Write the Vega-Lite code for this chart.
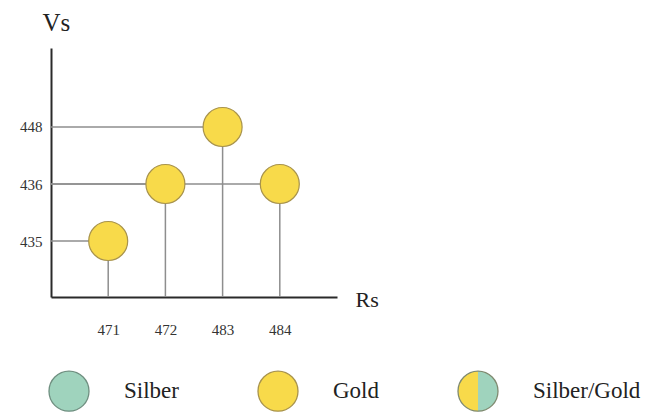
{
  "$schema": "https://vega.github.io/schema/vega-lite/v6.json",
  "autosize": {"type": "none"},
  "padding": {"left": 51, "top": 48, "right": 325, "bottom": 115},
  "width": 286,
  "height": 249,
  "background": "#ffffff",
  "config": {
    "view": {"stroke": null},
    "font": "Liberation Serif"
  },
  "data": {
    "values": [
      {"Rs": "471", "Vs": "435", "Metall": "Gold"},
      {"Rs": "472", "Vs": "436", "Metall": "Gold"},
      {"Rs": "483", "Vs": "448", "Metall": "Gold"},
      {"Rs": "484", "Vs": "436", "Metall": "Gold"}
    ]
  },
  "encoding": {
    "x": {
      "field": "Rs",
      "type": "ordinal",
      "sort": ["471", "472", "483", "484"],
      "scale": {"type": "point", "padding": 1},
      "axis": {
        "title": "Rs",
        "titleFont": "Liberation Serif",
        "titleFontSize": 22,
        "titleFontWeight": "normal",
        "titleColor": "#222222",
        "titleAngle": 0,
        "titleAlign": "left",
        "titleBaseline": "alphabetic",
        "titleX": 304,
        "titleY": 9,
        "labelAngle": 0,
        "labelFont": "Liberation Serif",
        "labelFontSize": 15,
        "labelColor": "#333333",
        "labelPadding": 25,
        "labelDx": 6,
        "ticks": false,
        "tickSize": 0,
        "grid": false,
        "domainColor": "#2a2a2a",
        "domainWidth": 2
      }
    },
    "y": {
      "field": "Vs",
      "type": "ordinal",
      "scale": {"type": "point", "domain": ["", "448", "436", "435"], "padding": 0.684, "align": 0.282},
      "axis": {
        "values": ["448", "436", "435"],
        "title": "Vs",
        "titleFont": "Liberation Serif",
        "titleFontSize": 25,
        "titleFontWeight": "normal",
        "titleColor": "#222222",
        "titleAngle": 0,
        "titleAlign": "left",
        "titleBaseline": "alphabetic",
        "titleX": -9,
        "titleY": -18,
        "labelFont": "Liberation Serif",
        "labelFontSize": 15,
        "labelColor": "#333333",
        "labelPadding": 9,
        "ticks": false,
        "tickSize": 0,
        "grid": false,
        "domainColor": "#2a2a2a",
        "domainWidth": 2
      }
    }
  },
  "layer": [
    {
      "mark": {"type": "rule", "color": "#8e8e8e", "strokeWidth": 1.5},
      "encoding": {
        "x2": {"value": 0}
      }
    },
    {
      "mark": {"type": "rule", "color": "#8e8e8e", "strokeWidth": 1.5},
      "encoding": {
        "y2": {"value": "height"}
      }
    },
    {
      "mark": {"type": "point", "filled": true, "opacity": 1, "size": 1521, "stroke": "#a8934c", "strokeWidth": 1.2},
      "encoding": {
        "color": {
          "field": "Metall",
          "type": "nominal",
          "scale": {"domain": ["Gold", "Silber", "Silber/Gold"], "range": ["#f8da4a", "#9fd3bd", "#c8d8a0"]},
          "legend": null
        },
        "shape": {
          "field": "Metall",
          "type": "nominal",
          "scale": {"domain": ["Silber", "Gold", "Silber/Gold"], "range": ["circle", "circle", "circle"]},
          "legend": {
            "orient": "none",
            "legendX": -3,
            "legendY": 322,
            "direction": "horizontal",
            "title": null,
            "symbolSize": 1600,
            "symbolStrokeWidth": 1.3,
            "symbolOpacity": 1,
            "symbolFillColor": {"expr": "datum.value === 'Silber/Gold' ? {gradient: 'linear', x1: 0, y1: 0, x2: 1, y2: 0, stops: [{offset: 0, color: '#f8da4a'}, {offset: 0.49, color: '#f8da4a'}, {offset: 0.49, color: '#6e6e6e'}, {offset: 0.51, color: '#6e6e6e'}, {offset: 0.51, color: '#9fd3bd'}, {offset: 1, color: '#9fd3bd'}]} : datum.value === 'Gold' ? '#f8da4a' : '#9fd3bd'"},
            "symbolStrokeColor": {"expr": "datum.value === 'Gold' ? '#a8934c' : datum.value === 'Silber' ? '#6f8f80' : '#7f8a70'"},
            "labelFont": "Liberation Serif",
            "labelFontSize": 23,
            "labelColor": "#222222",
            "labelOffset": 34,
            "columnPadding": 76,
            "padding": 0
          }
        }
      }
    }
  ]
}
